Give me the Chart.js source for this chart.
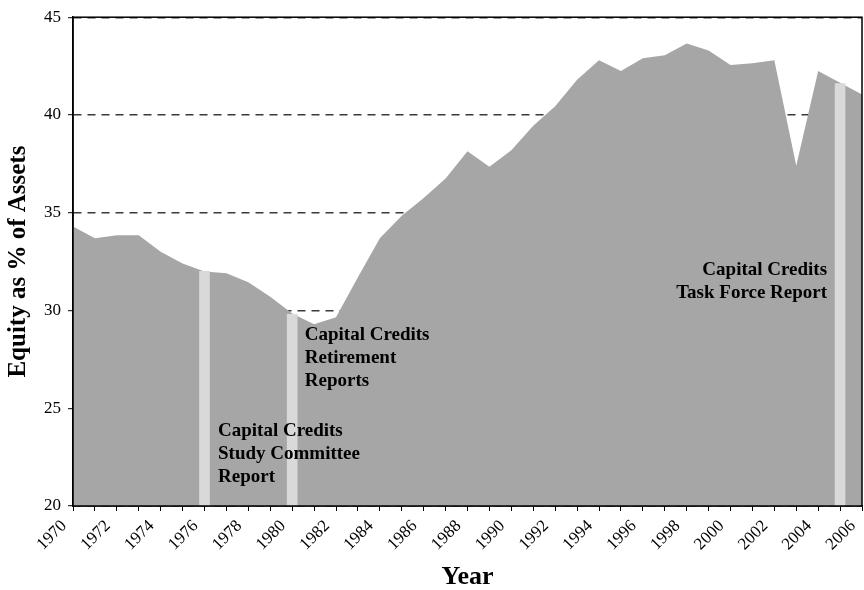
<!DOCTYPE html>
<html>
<head>
<meta charset="utf-8">
<script src="https://cdn.jsdelivr.net/npm/chart.js@4.4.1/dist/chart.umd.min.js"></script>
<style>
  html, body { margin: 0; padding: 0; background: #ffffff; }
  #wrap { width: 864px; height: 590px; }
</style>
</head>
<body>
<div id="wrap"><canvas id="c" width="864" height="590"></canvas></div>
<script>
// ---- data ----
const years = ['1970','1971','1972','1973','1974','1975','1976','1977','1978','1979',
               '1980','1981','1982','1983','1984','1985','1986','1987','1988','1989',
               '1990','1991','1992','1993','1994','1995','1996','1997','1998','1999',
               '2000','2001','2002','2003','2004','2005','2006'];
const equity = [34.3, 33.7, 33.85, 33.85, 33.0, 32.4, 32.0, 31.9, 31.45, 30.7,
                29.85, 29.3, 29.65, 31.7, 33.7, 34.85, 35.75, 36.75, 38.15, 37.35,
                38.2, 39.45, 40.45, 41.8, 42.8, 42.25, 42.9, 43.05, 43.65, 43.3,
                42.55, 42.65, 42.8, 37.4, 42.25, 41.65, 41.05];
const reportYears = ['1976', '1980', '2005'];
const reportValues = [32.0, 29.8, 41.6];
const reportLabels = [
  ['Capital Credits', 'Study Committee', 'Report'],
  ['Capital Credits', 'Retirement', 'Reports'],
  ['Capital Credits', 'Task Force Report']
];
const yTicks = [20, 25, 30, 35, 40, 45];
const xTitle = 'Year';
const yTitle = 'Equity as % of Assets';

// ---- rendering ----
const SERIF = '"Liberation Serif", "Times New Roman", serif';

const annotationPlugin = {
  id: 'reportNotes',
  afterDatasetsDraw(chart) {
    const ctx = chart.ctx;
    const xs = chart.scales.x, ys = chart.scales.y;
    const place = [
      { dx: 13.5, yv: 23.56, align: 'left' },
      { dx: 12.6, yv: 28.49, align: 'left' },
      { dx: -13, yv: 31.8, align: 'right' }
    ];
    ctx.save();
    ctx.fillStyle = '#000';
    ctx.font = 'bold 19px ' + SERIF;
    ctx.textBaseline = 'alphabetic';
    reportLabels.forEach((lines, i) => {
      const x = xs.getPixelForValue(years.indexOf(reportYears[i])) + place[i].dx;
      const y0 = ys.getPixelForValue(place[i].yv);
      ctx.textAlign = place[i].align;
      lines.forEach((t, k) => ctx.fillText(t, x, y0 + k * 23));
    });
    ctx.restore();
  },
  afterDraw(chart) {
    const { ctx, chartArea: a } = chart;
    ctx.save();
    ctx.strokeStyle = '#000';
    ctx.lineWidth = 1.5;
    ctx.strokeRect(a.left, a.top, a.right - a.left, a.bottom - a.top);
    ctx.restore();
  }
};

new Chart(document.getElementById('c'), {
  type: 'line',
  data: {
    labels: years,
    datasets: [
      {
        type: 'bar',
        label: 'Reports',
        data: reportYears.map((y, i) => ({ x: y, y: reportValues[i] })),
        backgroundColor: '#d9d9d9',
        borderWidth: 0,
        barThickness: 10,
        order: 0
      },
      {
        type: 'line',
        label: 'Equity as % of Assets',
        data: equity,
        fill: 'start',
        backgroundColor: '#a6a6a6',
        borderWidth: 0,
        borderColor: 'rgba(0,0,0,0)',
        pointRadius: 0,
        tension: 0,
        order: 1
      }
    ]
  },
  options: {
    responsive: false,
    devicePixelRatio: 1,
    animation: false,
    layout: { padding: { top: 14, right: 2, left: 0, bottom: 0 } },
    plugins: { legend: { display: false }, tooltip: { enabled: false } },
    scales: {
      x: {
        type: 'category',
        offset: false,
        grid: { display: true, offset: false, drawOnChartArea: false, drawTicks: true, tickLength: 5, color: '#000', lineWidth: 1 },
        border: { display: true, color: '#000', width: 1.5 },
        ticks: {
          autoSkip: false,
          minRotation: 45,
          maxRotation: 45,
          padding: 5,
          labelOffset: -9,
          color: '#000',
          font: { family: SERIF, size: 17 },
          callback: function (v, i) { return (parseInt(years[i], 10) % 2 === 0) ? years[i] : ''; }
        },
        title: {
          display: true,
          text: xTitle,
          color: '#000',
          font: { family: SERIF, size: 26, weight: 'bold', lineHeight: 1 },
          padding: { top: 0, bottom: 0 }
        },
        afterFit: function (s) { s.height = 84; s.paddingLeft = 0; s.paddingRight = 0; }
      },
      y: {
        min: 20,
        max: 45,
        afterBuildTicks: function (s) { s.ticks = yTicks.map(v => ({ value: v })); },
        grid: { display: true, drawOnChartArea: true, drawTicks: true, tickLength: 5, color: '#3a3a3a', lineWidth: 1.4, tickColor: '#000', tickWidth: 1 },
        border: { display: true, color: '#000', width: 1.5, dash: [8, 6] },
        ticks: {
          padding: 7,
          color: '#000',
          font: { family: SERIF, size: 17 }
        },
        title: {
          display: true,
          text: yTitle,
          color: '#000',
          font: { family: SERIF, size: 25, weight: 'bold', lineHeight: 1 },
          padding: { top: 6, bottom: 0 }
        },
        afterFit: function (s) { s.width = 73; }
      }
    }
  },
  plugins: [annotationPlugin]
});
</script>
</body>
</html>
